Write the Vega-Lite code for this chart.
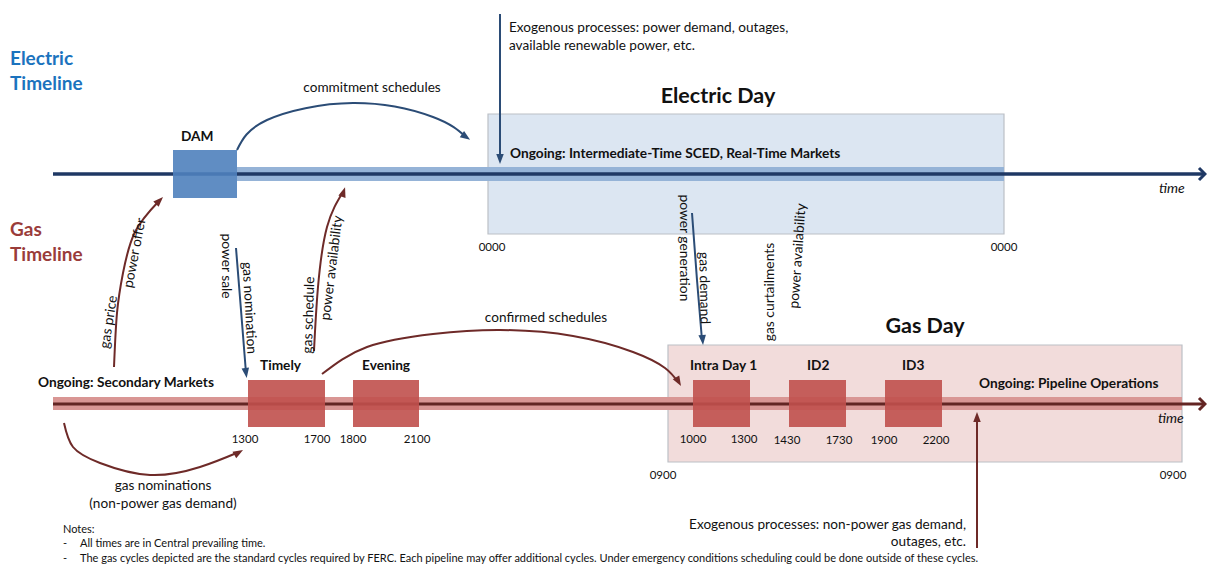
{
  "$schema": "https://vega.github.io/schema/vega-lite/v6.json",
  "width": 1207,
  "height": 565,
  "autosize": {"type": "none"},
  "padding": 0,
  "background": "white",
  "config": {"view": {"stroke": null}, "font": "Lato", "text": {"font": "Lato"}},
  "datasets": {
    "days": [
      {"x": 488, "x2": 1004, "y": 114, "y2": 234, "k": "eday"},
      {"x": 668, "x2": 1182, "y": 345, "y2": 462, "k": "gday"}
    ],
    "bands": [
      {"x": 237, "x2": 1004, "y": 167, "y2": 181, "k": "eband"},
      {"x": 53, "x2": 1182, "y": 397, "y2": 410, "k": "gband"}
    ],
    "timelines": [
      {"x": 53, "x2": 1203, "y": 174, "k": "eline", "w": "e"},
      {"x": 53, "x2": 1203, "y": 404, "k": "gline", "w": "g"}
    ],
    "chevrons": [
      {"x": 1205, "y": 174, "k": "eline"},
      {"x": 1205, "y": 404, "k": "gline"}
    ],
    "boxes": [
      {"name": "DAM", "x": 173, "x2": 237, "y": 150, "y2": 198, "k": "ebox"},
      {"name": "Timely", "x": 248, "x2": 325, "y": 380, "y2": 427, "k": "gbox"},
      {"name": "Evening", "x": 353, "x2": 419, "y": 380, "y2": 427, "k": "gbox"},
      {"name": "Intra Day 1", "x": 693, "x2": 750, "y": 380, "y2": 427, "k": "gbox"},
      {"name": "ID2", "x": 789, "x2": 846, "y": 380, "y2": 427, "k": "gbox"},
      {"name": "ID3", "x": 885, "x2": 942, "y": 380, "y2": 427, "k": "gbox"}
    ],
    "curves": [
      {"id": "c1", "o": 1, "x": 237, "y": 150, "k": "earrow"},
      {"id": "c1", "o": 2, "x": 267, "y": 120, "k": "earrow"},
      {"id": "c1", "o": 3, "x": 353, "y": 103, "k": "earrow"},
      {"id": "c1", "o": 4, "x": 433, "y": 117, "k": "earrow"},
      {"id": "c1", "o": 5, "x": 466, "y": 137, "k": "earrow"},
      {"id": "c2", "o": 1, "x": 114, "y": 367, "k": "garrow"},
      {"id": "c2", "o": 2, "x": 117, "y": 313, "k": "garrow"},
      {"id": "c2", "o": 3, "x": 123, "y": 273, "k": "garrow"},
      {"id": "c2", "o": 4, "x": 135, "y": 232, "k": "garrow"},
      {"id": "c2", "o": 5, "x": 159, "y": 201, "k": "garrow"},
      {"id": "c3", "o": 1, "x": 236, "y": 248, "k": "earrow"},
      {"id": "c3", "o": 2, "x": 241, "y": 310, "k": "earrow"},
      {"id": "c3", "o": 3, "x": 246, "y": 373, "k": "earrow"},
      {"id": "c4", "o": 1, "x": 314, "y": 351, "k": "garrow"},
      {"id": "c4", "o": 2, "x": 318, "y": 287, "k": "garrow"},
      {"id": "c4", "o": 3, "x": 327, "y": 227, "k": "garrow"},
      {"id": "c4", "o": 4, "x": 343, "y": 192, "k": "garrow"},
      {"id": "c5", "o": 1, "x": 322, "y": 374, "k": "garrow"},
      {"id": "c5", "o": 2, "x": 367, "y": 347, "k": "garrow"},
      {"id": "c5", "o": 3, "x": 433, "y": 334, "k": "garrow"},
      {"id": "c5", "o": 4, "x": 500, "y": 330, "k": "garrow"},
      {"id": "c5", "o": 5, "x": 573, "y": 336, "k": "garrow"},
      {"id": "c5", "o": 6, "x": 633, "y": 352, "k": "garrow"},
      {"id": "c5", "o": 7, "x": 665, "y": 368, "k": "garrow"},
      {"id": "c5", "o": 8, "x": 678, "y": 382, "k": "garrow"},
      {"id": "c6", "o": 1, "x": 692, "y": 213, "k": "earrow"},
      {"id": "c6", "o": 2, "x": 697, "y": 280, "k": "earrow"},
      {"id": "c6", "o": 3, "x": 702, "y": 340, "k": "earrow"},
      {"id": "c7", "o": 1, "x": 64, "y": 423, "k": "garrow"},
      {"id": "c7", "o": 2, "x": 73, "y": 447, "k": "garrow"},
      {"id": "c7", "o": 3, "x": 100, "y": 463, "k": "garrow"},
      {"id": "c7", "o": 4, "x": 150, "y": 475, "k": "garrow"},
      {"id": "c7", "o": 5, "x": 200, "y": 467, "k": "garrow"},
      {"id": "c7", "o": 6, "x": 239, "y": 452, "k": "garrow"},
      {"id": "c8", "o": 1, "x": 500, "y": 14, "k": "earrow"},
      {"id": "c8", "o": 2, "x": 500, "y": 159, "k": "earrow"},
      {"id": "c9", "o": 1, "x": 977, "y": 548, "k": "garrow"},
      {"id": "c9", "o": 2, "x": 977, "y": 417, "k": "garrow"}
    ],
    "heads": [
      {"id": "c1", "x": 466, "y": 137, "ang": 125, "k": "earrow"},
      {"id": "c2", "x": 159.5, "y": 200.5, "ang": 45, "k": "garrow"},
      {"id": "c3", "x": 246, "y": 373, "ang": 172, "k": "earrow"},
      {"id": "c4", "x": 343.5, "y": 192, "ang": 18, "k": "garrow"},
      {"id": "c5", "x": 678.5, "y": 381.7, "ang": 150, "k": "garrow"},
      {"id": "c6", "x": 702.6, "y": 340, "ang": 175, "k": "earrow"},
      {"id": "c7", "x": 238.7, "y": 452.5, "ang": 60, "k": "garrow"},
      {"id": "c8", "x": 500, "y": 159, "ang": 180, "k": "earrow"},
      {"id": "c9", "x": 977, "y": 417, "ang": 0, "k": "garrow"}
    ],
    "titles": [
      {"t": "Electric", "x": 10, "y": 65, "k": "etitle"},
      {"t": "Timeline", "x": 10, "y": 90, "k": "etitle"},
      {"t": "Gas", "x": 10, "y": 236, "k": "gtitle"},
      {"t": "Timeline", "x": 10, "y": 261, "k": "gtitle"}
    ],
    "bigTitles": [
      {"t": "Electric Day", "x": 718, "y": 103, "k": "ink"},
      {"t": "Gas Day", "x": 925, "y": 333, "k": "ink"}
    ],
    "boldLabels": [
      {"t": "DAM", "x": 181, "y": 141, "k": "ink"},
      {"t": "Ongoing: Intermediate-Time SCED, Real-Time Markets", "x": 510, "y": 158, "k": "ink"},
      {"t": "Timely", "x": 260, "y": 370, "k": "ink"},
      {"t": "Evening", "x": 362, "y": 370, "k": "ink"},
      {"t": "Intra Day 1", "x": 690, "y": 370, "k": "ink"},
      {"t": "ID2", "x": 807, "y": 370, "k": "ink"},
      {"t": "ID3", "x": 902, "y": 370, "k": "ink"},
      {"t": "Ongoing: Pipeline Operations", "x": 979, "y": 388, "k": "ink"},
      {"t": "Ongoing: Secondary Markets", "x": 38, "y": 387, "k": "ink"}
    ],
    "labelsCenter": [
      {"t": "commitment schedules", "x": 372, "y": 92, "k": "ink"},
      {"t": "confirmed schedules", "x": 546, "y": 322, "k": "ink"},
      {"t": "gas nominations", "x": 163, "y": 490, "k": "ink"},
      {"t": "(non-power gas demand)", "x": 163, "y": 508, "k": "ink"}
    ],
    "labelsLeft": [
      {"t": "Exogenous processes: power demand, outages,", "x": 509, "y": 32, "k": "ink"},
      {"t": "available renewable power, etc.", "x": 509, "y": 50, "k": "ink"}
    ],
    "labelsRight": [
      {"t": "Exogenous processes: non-power gas demand,", "x": 966, "y": 529, "k": "ink"},
      {"t": "outages, etc.", "x": 966, "y": 546, "k": "ink"}
    ],
    "ticks": [
      {"t": "0000", "x": 492, "y": 251, "k": "ink"},
      {"t": "0000", "x": 1004, "y": 251, "k": "ink"},
      {"t": "1300", "x": 245, "y": 443, "k": "ink"},
      {"t": "1700", "x": 317, "y": 443, "k": "ink"},
      {"t": "1800", "x": 353, "y": 443, "k": "ink"},
      {"t": "2100", "x": 417, "y": 443, "k": "ink"},
      {"t": "1000", "x": 693, "y": 443, "k": "ink"},
      {"t": "1300", "x": 744, "y": 443, "k": "ink"},
      {"t": "1430", "x": 787, "y": 444, "k": "ink"},
      {"t": "1730", "x": 839, "y": 444, "k": "ink"},
      {"t": "1900", "x": 884, "y": 444, "k": "ink"},
      {"t": "2200", "x": 936, "y": 444, "k": "ink"},
      {"t": "0900", "x": 663, "y": 479, "k": "ink"},
      {"t": "0900", "x": 1173, "y": 479, "k": "ink"}
    ],
    "times": [
      {"t": "time", "x": 1159, "y": 193, "k": "ink"},
      {"t": "time", "x": 1158, "y": 423, "k": "ink"}
    ],
    "notes": [
      {"t": "Notes:", "x": 63, "y": 533, "k": "ink"},
      {"t": "-", "x": 63, "y": 547, "k": "ink"},
      {"t": "All times are in Central prevailing time.", "x": 80, "y": 547, "k": "ink"},
      {"t": "-", "x": 63, "y": 562, "k": "ink"},
      {"t": "The gas cycles depicted are the standard cycles required by FERC. Each pipeline may offer additional cycles. Under emergency conditions scheduling could be done outside of these cycles.", "x": 80, "y": 562, "k": "ink"}
    ],
    "rotated": [
      {"t": "power offer", "x": 135, "y": 253, "ang": -79, "k": "ink"},
      {"t": "gas price", "x": 109, "y": 322, "ang": -81, "k": "ink"},
      {"t": "power sale", "x": 226, "y": 266, "ang": 90, "k": "ink"},
      {"t": "gas nomination", "x": 249, "y": 308, "ang": 87, "k": "ink"},
      {"t": "gas schedule", "x": 309, "y": 315, "ang": -88, "k": "ink"},
      {"t": "power availability", "x": 332, "y": 268, "ang": -83, "k": "ink"},
      {"t": "power generation", "x": 684, "y": 248, "ang": 90, "k": "ink"},
      {"t": "gas demand", "x": 704, "y": 288, "ang": 89, "k": "ink"},
      {"t": "gas curtailments", "x": 770, "y": 292, "ang": -90, "k": "ink"},
      {"t": "power availability", "x": 798, "y": 256, "ang": -86, "k": "ink"}
    ]
  },
  "encoding": {
    "x": {"field": "x", "type": "quantitative", "scale": {"domain": [0, 1207], "nice": false, "zero": false}, "axis": null},
    "y": {"field": "y", "type": "quantitative", "scale": {"domain": [0, 565], "reverse": true, "nice": false, "zero": false}, "axis": null},
    "color": {
      "field": "k",
      "type": "nominal",
      "legend": null,
      "scale": {
        "domain": ["eday", "gday", "eband", "gband", "eline", "gline", "ebox", "gbox", "earrow", "garrow", "etitle", "gtitle", "ink"],
        "range": ["#dce6f2", "#f2dcdb", "#95b3d7", "#d99694", "#1f3864", "#632523", "#4f81bd", "#c0504d", "#2b4c76", "#6e2a28", "#1b73be", "#9a3c3a", "#111111"]
      }
    }
  },
  "layer": [
    {
      "data": {"name": "days"},
      "mark": {"type": "rect", "stroke": "#bcc0c6", "strokeWidth": 1.2},
      "encoding": {"x2": {"field": "x2"}, "y2": {"field": "y2"}}
    },
    {
      "data": {"name": "bands"},
      "mark": {"type": "rect"},
      "encoding": {"x2": {"field": "x2"}, "y2": {"field": "y2"}}
    },
    {
      "data": {"name": "timelines"},
      "mark": {"type": "rule"},
      "encoding": {
        "x2": {"field": "x2"},
        "strokeWidth": {"field": "w", "type": "nominal", "legend": null, "scale": {"domain": ["e", "g"], "range": [3.5, 3]}}
      }
    },
    {
      "data": {"name": "chevrons"},
      "mark": {"type": "point", "shape": "M-1,-1L0,0L-1,1", "filled": false, "strokeWidth": 3, "size": 144, "opacity": 1},
      "encoding": {}
    },
    {
      "data": {"name": "boxes"},
      "mark": {"type": "rect", "opacity": 0.9},
      "encoding": {"x2": {"field": "x2"}, "y2": {"field": "y2"}}
    },
    {
      "data": {"name": "curves"},
      "mark": {"type": "line", "interpolate": "natural", "strokeWidth": 2},
      "encoding": {"detail": {"field": "id"}, "order": {"field": "o", "type": "quantitative"}}
    },
    {
      "data": {"name": "heads"},
      "mark": {"type": "point", "shape": "M0,-1L0.75,1L-0.75,1Z", "filled": true, "size": 100, "opacity": 1, "strokeWidth": 0},
      "encoding": {"angle": {"field": "ang", "type": "quantitative", "scale": null}}
    },
    {
      "data": {"name": "titles"},
      "mark": {"type": "text", "fontSize": 19, "fontWeight": "bold", "align": "left", "baseline": "alphabetic"},
      "encoding": {"text": {"field": "t"}}
    },
    {
      "data": {"name": "bigTitles"},
      "mark": {"type": "text", "fontSize": 21.5, "fontWeight": "bold", "align": "center", "baseline": "alphabetic"},
      "encoding": {"text": {"field": "t"}}
    },
    {
      "data": {"name": "boldLabels"},
      "mark": {"type": "text", "fontSize": 13.7, "fontWeight": "bold", "align": "left", "baseline": "alphabetic"},
      "encoding": {"text": {"field": "t"}}
    },
    {
      "data": {"name": "labelsCenter"},
      "mark": {"type": "text", "fontSize": 13.6, "align": "center", "baseline": "alphabetic"},
      "encoding": {"text": {"field": "t"}}
    },
    {
      "data": {"name": "labelsLeft"},
      "mark": {"type": "text", "fontSize": 13.6, "align": "left", "baseline": "alphabetic"},
      "encoding": {"text": {"field": "t"}}
    },
    {
      "data": {"name": "labelsRight"},
      "mark": {"type": "text", "fontSize": 13.6, "align": "right", "baseline": "alphabetic"},
      "encoding": {"text": {"field": "t"}}
    },
    {
      "data": {"name": "ticks"},
      "mark": {"type": "text", "fontSize": 11.5, "align": "center", "baseline": "alphabetic"},
      "encoding": {"text": {"field": "t"}}
    },
    {
      "data": {"name": "times"},
      "mark": {"type": "text", "fontSize": 14, "fontStyle": "italic", "align": "left", "baseline": "alphabetic"},
      "encoding": {"text": {"field": "t"}}
    },
    {
      "data": {"name": "notes"},
      "mark": {"type": "text", "fontSize": 11, "align": "left", "baseline": "alphabetic"},
      "encoding": {"text": {"field": "t"}}
    },
    {
      "data": {"name": "rotated"},
      "mark": {"type": "text", "fontSize": 13.8, "align": "center", "baseline": "middle"},
      "encoding": {"text": {"field": "t"}, "angle": {"field": "ang", "type": "quantitative", "scale": null}}
    }
  ]
}
